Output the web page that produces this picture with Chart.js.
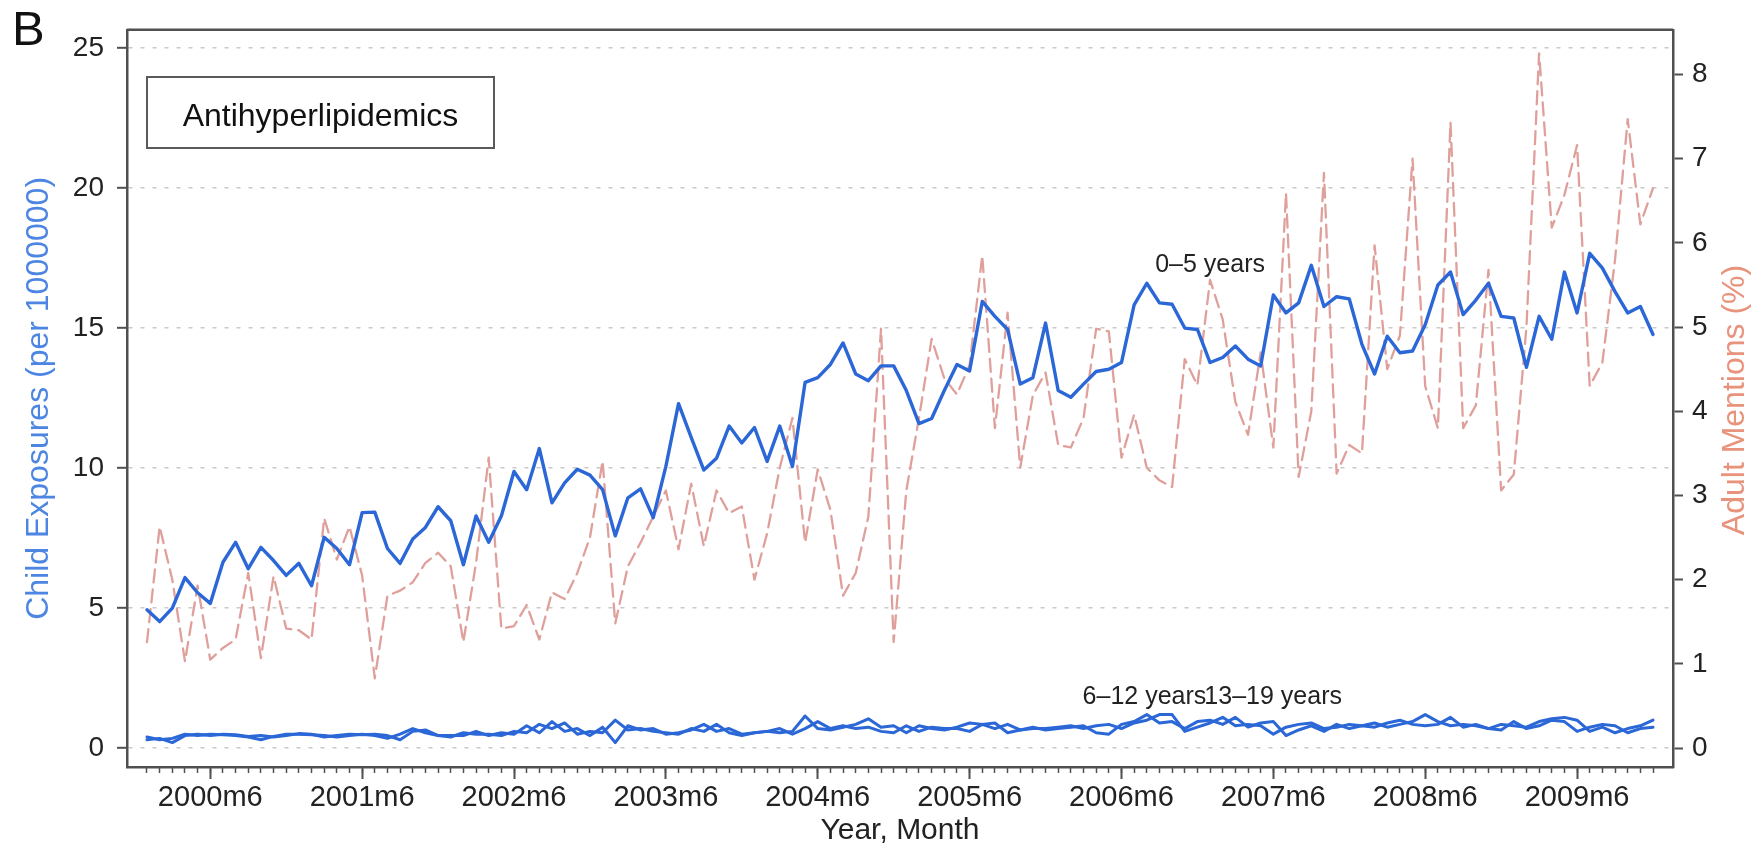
<!DOCTYPE html>
<html>
<head>
<meta charset="utf-8">
<script src="https://cdn.jsdelivr.net/npm/chart.js@4.4.1/dist/chart.umd.min.js"></script>
<style>
  html, body { margin: 0; padding: 0; background: #ffffff; }
  #wrap { position: relative; width: 1754px; height: 849px; }
</style>
</head>
<body>
<div id="wrap"><canvas id="chart"></canvas></div>
<script>
// Monthly categories, 2000m1 .. 2009m12
const years = [2000, 2001, 2002, 2003, 2004, 2005, 2006, 2007, 2008, 2009];
const months = [];
years.forEach(y => { for (let m = 1; m <= 12; m++) months.push(y + 'm' + m); });

// Labelled ticks on the time axis
const xTickLabels = ['2000m6', '2001m6', '2002m6', '2003m6', '2004m6',
                     '2005m6', '2006m6', '2007m6', '2008m6', '2009m6'];
const leftTicks = [0, 5, 10, 15, 20, 25];
const rightTicks = [0, 1, 2, 3, 4, 5, 6, 7, 8];

// Child exposures per 1,000,000, ages 0-5
const child0to5 = [
  4.94, 4.52, 5.00, 6.09, 5.55, 5.17, 6.64, 7.35, 6.41, 7.17, 6.70, 6.17,
  6.60, 5.80, 7.53, 7.13, 6.55, 8.41, 8.43, 7.13, 6.60, 7.47, 7.88, 8.62,
  8.12, 6.55, 8.29, 7.35, 8.29, 9.88, 9.23, 10.70, 8.76, 9.47, 9.96, 9.75,
  9.23, 7.58, 8.94, 9.26, 8.23, 10.06, 12.30, 11.10, 9.93, 10.35, 11.50, 10.90,
  11.45, 10.24, 11.50, 10.06, 13.06, 13.23, 13.70, 14.47, 13.36, 13.12, 13.65, 13.65,
  12.77, 11.59, 11.77, 12.77, 13.70, 13.47, 15.95, 15.42, 14.95, 13.00, 13.23, 15.18,
  12.77, 12.53, 13.00, 13.45, 13.53, 13.77, 15.83, 16.60, 15.90, 15.85, 15.00, 14.95,
  13.77, 13.95, 14.36, 13.89, 13.65, 16.18, 15.54, 15.90, 17.24, 15.77, 16.12, 16.04,
  14.42, 13.36, 14.71, 14.12, 14.18, 15.12, 16.54, 17.00, 15.48, 16.00, 16.60, 15.42,
  15.36, 13.60, 15.42, 14.60, 17.00, 15.54, 17.67, 17.14, 16.30, 15.54, 15.77, 14.77
];

// Child exposures per 1,000,000, ages 6-12
const child6to12 = [
  0.40, 0.30, 0.35, 0.50, 0.45, 0.50, 0.48, 0.45, 0.40, 0.30, 0.42, 0.50,
  0.50, 0.48, 0.45, 0.40, 0.45, 0.50, 0.45, 0.35, 0.50, 0.70, 0.55, 0.45,
  0.40, 0.55, 0.50, 0.50, 0.45, 0.60, 0.55, 0.85, 0.70, 0.90, 0.50, 0.60,
  0.55, 1.00, 0.65, 0.70, 0.60, 0.55, 0.50, 0.70, 0.60, 0.85, 0.55, 0.45,
  0.55, 0.60, 0.55, 0.60, 1.15, 0.70, 0.65, 0.75, 0.85, 1.05, 0.75, 0.80,
  0.55, 0.80, 0.70, 0.65, 0.75, 0.90, 0.85, 0.90, 0.55, 0.65, 0.70, 0.70,
  0.75, 0.80, 0.70, 0.80, 0.85, 0.70, 0.90, 1.00, 1.20, 1.20, 0.60, 0.75,
  0.90, 1.10, 0.80, 0.85, 0.80, 0.50, 0.75, 0.85, 0.90, 0.70, 0.75, 0.85,
  0.80, 0.90, 0.75, 0.85, 0.95, 1.20, 0.95, 0.80, 0.85, 0.80, 0.70, 0.85,
  0.80, 0.75, 0.95, 1.05, 1.10, 1.00, 0.60, 0.75, 0.55, 0.70, 0.80, 1.00
];

// Child exposures per 1,000,000, ages 13-19
const child13to19 = [
  0.30, 0.35, 0.20, 0.45, 0.50, 0.45, 0.50, 0.48, 0.42, 0.45, 0.40, 0.45,
  0.52, 0.50, 0.40, 0.45, 0.50, 0.48, 0.50, 0.45, 0.30, 0.60, 0.65, 0.45,
  0.45, 0.45, 0.60, 0.45, 0.55, 0.50, 0.80, 0.55, 0.95, 0.60, 0.70, 0.45,
  0.75, 0.20, 0.80, 0.65, 0.70, 0.50, 0.55, 0.65, 0.85, 0.60, 0.70, 0.50,
  0.55, 0.60, 0.70, 0.50, 0.70, 0.95, 0.70, 0.80, 0.70, 0.75, 0.60, 0.55,
  0.80, 0.60, 0.75, 0.70, 0.70, 0.60, 0.85, 0.70, 0.85, 0.65, 0.75, 0.65,
  0.70, 0.75, 0.80, 0.55, 0.50, 0.85, 0.95, 1.20, 0.90, 0.95, 0.70, 0.95,
  1.00, 0.85, 1.10, 0.75, 0.90, 0.95, 0.45, 0.65, 0.80, 0.60, 0.85, 0.70,
  0.80, 0.75, 0.90, 1.00, 0.85, 0.80, 0.85, 1.10, 0.75, 0.85, 0.70, 0.65,
  0.95, 0.70, 0.80, 1.00, 0.95, 0.60, 0.75, 0.85, 0.80, 0.55, 0.70, 0.75
];

// Adult mentions, percent
const adultMentions = [
  1.26, 2.63, 2.00, 1.03, 1.93, 1.05, 1.19, 1.29, 2.08, 1.07, 2.04, 1.42,
  1.40, 1.29, 2.73, 2.24, 2.63, 2.05, 0.83, 1.81, 1.87, 1.97, 2.20, 2.32,
  2.16, 1.26, 2.20, 3.45, 1.42, 1.45, 1.70, 1.29, 1.85, 1.77, 2.08, 2.50,
  3.41, 1.48, 2.16, 2.44, 2.75, 3.06, 2.36, 3.14, 2.40, 3.06, 2.79, 2.87,
  2.00, 2.55, 3.33, 3.92, 2.44, 3.31, 2.83, 1.81, 2.08, 2.75, 4.98, 1.26,
  3.06, 3.92, 4.86, 4.39, 4.20, 4.55, 5.85, 3.80, 5.17, 3.33, 4.19, 4.46,
  3.60, 3.57, 3.92, 4.98, 4.95, 3.45, 3.96, 3.33, 3.18, 3.10, 4.62, 4.31,
  5.56, 5.09, 4.11, 3.72, 4.70, 3.57, 6.59, 3.22, 4.00, 6.83, 3.26, 3.60,
  3.50, 5.97, 4.50, 4.90, 7.00, 4.30, 3.80, 7.43, 3.80, 4.07, 5.68, 3.06,
  3.25, 5.00, 8.25, 6.18, 6.57, 7.16, 4.30, 4.58, 5.80, 7.47, 6.22, 6.65
];

const FONT = "'Liberation Sans', Arial, Helvetica, sans-serif";
const INK = '#222222';
const AXIS = '#505050';
const GRID = '#c9c9c9';
const BLUE = '#2b67d6';
const BLUE_TITLE = '#4d86e2';
const SALMON = '#dfa09c';
const SALMON_TITLE = '#e8937c';

const xTickValues = xTickLabels.map(l => months.indexOf(l));
const toPoints = arr => arr.map((v, i) => ({ x: i, y: v }));

// Text annotations placed in data coordinates (month index, left-axis value)
const seriesNotes = [
  { text: '0\u20135 years',   x: 84.0, y: 17.0, align: 'center' },
  { text: '6\u201312 years',  x: 83.7, y: 1.59, align: 'right' },
  { text: '13\u201319 years', x: 83.55, y: 1.59, align: 'left' }
];

const decor = {
  id: 'decor',
  afterDraw(chart) {
    const { ctx, chartArea: a, scales } = chart;
    ctx.save();

    // closing line along the top of the plot region
    ctx.strokeStyle = AXIS;
    ctx.lineWidth = 2.5;
    ctx.beginPath();
    ctx.moveTo(a.left, a.top);
    ctx.lineTo(a.right, a.top);
    ctx.stroke();

    // panel letter
    ctx.fillStyle = '#111111';
    ctx.font = '49px ' + FONT;
    ctx.textAlign = 'left';
    ctx.textBaseline = 'alphabetic';
    ctx.fillText('B', 12, 45);

    // drug class box
    ctx.fillStyle = '#ffffff';
    ctx.fillRect(147, 77, 347, 71);
    ctx.strokeStyle = '#5a5a5a';
    ctx.lineWidth = 2;
    ctx.strokeRect(147, 77, 347, 71);
    ctx.fillStyle = '#111111';
    ctx.font = '32px ' + FONT;
    ctx.textAlign = 'center';
    ctx.fillText('Antihyperlipidemics', 320.5, 126);

    // right axis title, reading upward
    ctx.save();
    ctx.translate(1735, 400);
    ctx.rotate(-Math.PI / 2);
    ctx.fillStyle = SALMON_TITLE;
    ctx.font = '32px ' + FONT;
    ctx.textAlign = 'center';
    ctx.textBaseline = 'middle';
    ctx.fillText('Adult Mentions (%)', 0, 0);
    ctx.restore();

    // series labels
    ctx.fillStyle = '#222222';
    ctx.font = '25px ' + FONT;
    ctx.textBaseline = 'alphabetic';
    seriesNotes.forEach(n => {
      ctx.textAlign = n.align;
      ctx.fillText(n.text, scales.x.getPixelForValue(n.x), scales.y.getPixelForValue(n.y));
    });
    ctx.restore();
  }
};

const lineStyle = {
  pointRadius: 0,
  tension: 0,
  fill: false,
  borderJoinStyle: 'round',
  borderCapStyle: 'round'
};

new Chart(document.getElementById('chart'), {
  type: 'line',
  data: {
    datasets: [
      Object.assign({ label: '0\u20135 years', data: toPoints(child0to5), borderColor: BLUE,
        borderWidth: 3.4, yAxisID: 'y', order: 1 }, lineStyle),
      Object.assign({ label: '6\u201312 years', data: toPoints(child6to12), borderColor: BLUE,
        borderWidth: 3.0, yAxisID: 'y', order: 2 }, lineStyle),
      Object.assign({ label: '13\u201319 years', data: toPoints(child13to19), borderColor: BLUE,
        borderWidth: 3.0, yAxisID: 'y', order: 3 }, lineStyle),
      Object.assign({ label: 'Adult mentions (%)', data: toPoints(adultMentions), borderColor: SALMON,
        borderWidth: 2.3, borderDash: [13, 7], yAxisID: 'y1', order: 9 }, lineStyle)
    ]
  },
  options: {
    responsive: true,
    maintainAspectRatio: false,
    animation: false,
    events: [],
    layout: { padding: { top: 23, left: 0, right: 0, bottom: 0 } },
    plugins: { legend: { display: false }, tooltip: { enabled: false } },
    scales: {
      x: {
        type: 'linear',
        position: 'bottom',
        weight: 1,
        min: -1.58,
        max: 120.58,
        afterFit: s => { s.height = 82; },
        afterBuildTicks: s => { s.ticks = xTickValues.map(v => ({ value: v })); },
        ticks: {
          autoSkip: false,
          maxRotation: 0,
          padding: 2,
          color: INK,
          font: { family: FONT, size: 29 },
          callback: v => months[v]
        },
        grid: { drawOnChartArea: false, drawTicks: true, tickLength: 12, tickColor: AXIS, tickWidth: 2 },
        border: { display: true, color: AXIS, width: 2.5 },
        title: { display: true, text: 'Year, Month', color: INK,
          font: { family: FONT, size: 30 }, padding: { top: 0, bottom: 0 } }
      },
      xMinor: {
        type: 'linear',
        position: 'bottom',
        weight: 0,
        min: -1.58,
        max: 120.58,
        afterFit: s => { s.height = 0; },
        afterBuildTicks: s => { s.ticks = months.map((m, i) => ({ value: i })); },
        ticks: { display: false },
        grid: { drawOnChartArea: false, drawTicks: true, tickLength: 6, tickColor: AXIS, tickWidth: 1.5 },
        border: { display: false }
      },
      y: {
        type: 'linear',
        position: 'left',
        min: -0.672,
        max: 25.65,
        afterFit: s => { s.width = 127; },
        afterBuildTicks: s => { s.ticks = leftTicks.map(v => ({ value: v })); },
        ticks: { padding: 13, color: INK, font: { family: FONT, size: 28 } },
        grid: { drawOnChartArea: true, color: GRID, lineWidth: 1.6, drawTicks: true,
          tickLength: 10, tickColor: AXIS, tickWidth: 2, tickBorderDash: [] },
        border: { display: true, color: AXIS, width: 2.5, dash: [4, 8] },
        title: { display: true, text: 'Child Exposures (per 1000000)', color: BLUE_TITLE,
          font: { family: FONT, size: 32 }, padding: { top: 20, bottom: 0 } }
      },
      y1: {
        type: 'linear',
        position: 'right',
        min: -0.224,
        max: 8.53,
        afterFit: s => { s.width = 81; },
        afterBuildTicks: s => { s.ticks = rightTicks.map(v => ({ value: v })); },
        ticks: { padding: 9, color: INK, font: { family: FONT, size: 28 } },
        grid: { drawOnChartArea: false, drawTicks: true, tickLength: 10, tickColor: AXIS, tickWidth: 2 },
        border: { display: true, color: AXIS, width: 2.5 }
      }
    }
  },
  plugins: [decor]
});
</script>
</body>
</html>
